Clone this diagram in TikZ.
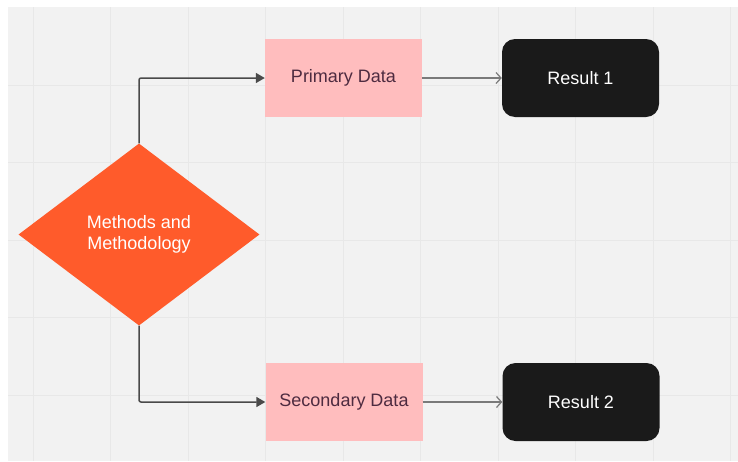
\documentclass[tikz,border=0pt]{standalone}
\usepackage{fontspec}
\setmainfont{Liberation Sans}
\usetikzlibrary{shapes.geometric,arrows.meta}

\definecolor{canvas}{HTML}{F2F2F2}
\definecolor{gridcol}{HTML}{E8E8E8}
\definecolor{orangered}{HTML}{FF5B2B}
\definecolor{pinkfill}{HTML}{FFBDBE}
\definecolor{plumtext}{HTML}{4E2B40}
\definecolor{nearblack}{HTML}{1A1A1A}
\definecolor{linedark}{HTML}{4A4A4A}
\definecolor{linelight}{HTML}{7A7A7A}

\tikzset{
  gridline/.style={draw=gridcol, line width=1pt},
  basefont/.style={font=\fontsize{18}{21}\selectfont},
  decision/.style={basefont, diamond, shape aspect=1.32, fill=orangered,
    text=white, align=center, inner sep=0pt,
    minimum width=241pt, minimum height=182pt},
  databox/.style={basefont, rectangle, fill=pinkfill, text=plumtext,
    inner sep=0pt, minimum width=157pt, minimum height=78pt},
  resultbox/.style={basefont, rectangle, rounded corners=13pt, fill=nearblack,
    text=white, inner sep=0pt, minimum width=157pt, minimum height=78pt},
  elbow/.style={draw=linedark, line width=1.5pt, rounded corners=2pt,
    -{Triangle[length=9pt,width=10pt]}},
  flow/.style={draw=linelight, line width=1.2pt,
    -{Straight Barb[length=5pt,width=11pt,line width=1.2pt]}}
}

\begin{document}
\begin{tikzpicture}[x=1pt,y=-1pt]
  \useasboundingbox (0,0) rectangle (738,461);
  % page and canvas
  \fill[white] (0,0) rectangle (738,461);
  \fill[canvas] (8,7) rectangle (738,461);
  % background grid
  \foreach \gx in {33,110.5,...,731} \draw[gridline] (\gx,7) -- (\gx,461);
  \foreach \gy in {85,162.5,...,396} \draw[gridline] (8,\gy) -- (738,\gy);

  % shapes
  \node[decision] (mm) at (139,234.5) {Methods and\\Methodology};
  \node[databox] (pd) at (343.5,78) {Primary Data};
  \node[databox] (sd) at (344,402) {Secondary Data};
  \node[resultbox] (r1) at (580.5,78) {Result 1};
  \node[resultbox] (r2) at (581,402) {Result 2};

  % connectors
  \draw[elbow] (mm.north) |- (pd.west);
  \draw[elbow] (mm.south) |- (sd.west);
  \draw[flow] (pd.east) -- (r1.west);
  \draw[flow] (sd.east) -- (r2.west);
\end{tikzpicture}
\end{document}
